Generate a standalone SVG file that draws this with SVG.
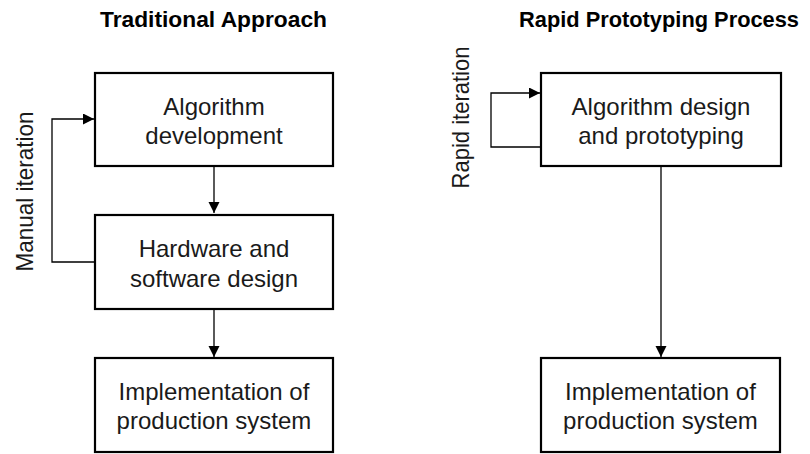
<svg xmlns="http://www.w3.org/2000/svg" width="810" height="454" viewBox="0 0 810 454">
<style>
  .box { fill: #fff; stroke: #000; stroke-width: 2.2; }
  .lbl { font-family: "Liberation Sans", Arial, sans-serif; font-size: 24px; fill: #1a1a1a; text-anchor: middle; }
  .title { font-family: "Liberation Sans", Arial, sans-serif; font-size: 22px; font-weight: bold; fill: #000; text-anchor: middle; }
  .side { font-family: "Liberation Sans", Arial, sans-serif; font-size: 24px; fill: #1a1a1a; text-anchor: middle; }
  .conn { fill: none; stroke: #000; stroke-width: 1.3; }
</style>
<defs>
  <marker id="arr" markerUnits="userSpaceOnUse" markerWidth="12" markerHeight="12" refX="11" refY="5.5" orient="auto">
    <path d="M0,0 L11,5.5 L0,11 z" fill="#000"/>
  </marker>
</defs>
<rect width="810" height="454" fill="#fff"/>

<text class="title" x="213.5" y="27" textLength="227" lengthAdjust="spacingAndGlyphs">Traditional Approach</text>
<text class="title" x="659" y="27" textLength="280" lengthAdjust="spacingAndGlyphs">Rapid Prototyping Process</text>

<g id="connectors">
  <path class="conn" d="M214,167 L214,213" marker-end="url(#arr)"/>
  <path class="conn" d="M214,310 L214,357" marker-end="url(#arr)"/>
  <path class="conn" d="M95,262 L52,262 L52,119 L94,119" marker-end="url(#arr)"/>
  <path class="conn" d="M661,167 L661,357" marker-end="url(#arr)"/>
  <path class="conn" d="M541,147 L491,147 L491,93 L540,93" marker-end="url(#arr)"/>
</g>

<g id="manual-iteration">
  <text class="side" transform="translate(33,191.5) rotate(-90)" x="0" y="0" textLength="160" lengthAdjust="spacingAndGlyphs">Manual iteration</text>
</g>
<g id="rapid-iteration">
  <text class="side" transform="translate(468.5,117.5) rotate(-90)" x="0" y="0" textLength="142" lengthAdjust="spacingAndGlyphs">Rapid iteration</text>
</g>

<g id="algo-dev">
  <rect class="box" x="95" y="73" width="238" height="93"/>
  <text class="lbl" x="214" y="115">Algorithm</text>
  <text class="lbl" x="214" y="144">development</text>
</g>
<g id="hw-sw-design">
  <rect class="box" x="95" y="215" width="238" height="94"/>
  <text class="lbl" x="214" y="257">Hardware and</text>
  <text class="lbl" x="214" y="286.5">software design</text>
</g>
<g id="impl-trad">
  <rect class="box" x="95" y="358" width="238" height="94"/>
  <text class="lbl" x="214" y="400">Implementation of</text>
  <text class="lbl" x="214" y="429">production system</text>
</g>

<g id="algo-proto">
  <rect class="box" x="541" y="73" width="240" height="93"/>
  <text class="lbl" x="661" y="115">Algorithm design</text>
  <text class="lbl" x="661" y="144">and prototyping</text>
</g>
<g id="impl-rapid">
  <rect class="box" x="541" y="358" width="239" height="94"/>
  <text class="lbl" x="660.5" y="400">Implementation of</text>
  <text class="lbl" x="660.5" y="429">production system</text>
</g>
</svg>
